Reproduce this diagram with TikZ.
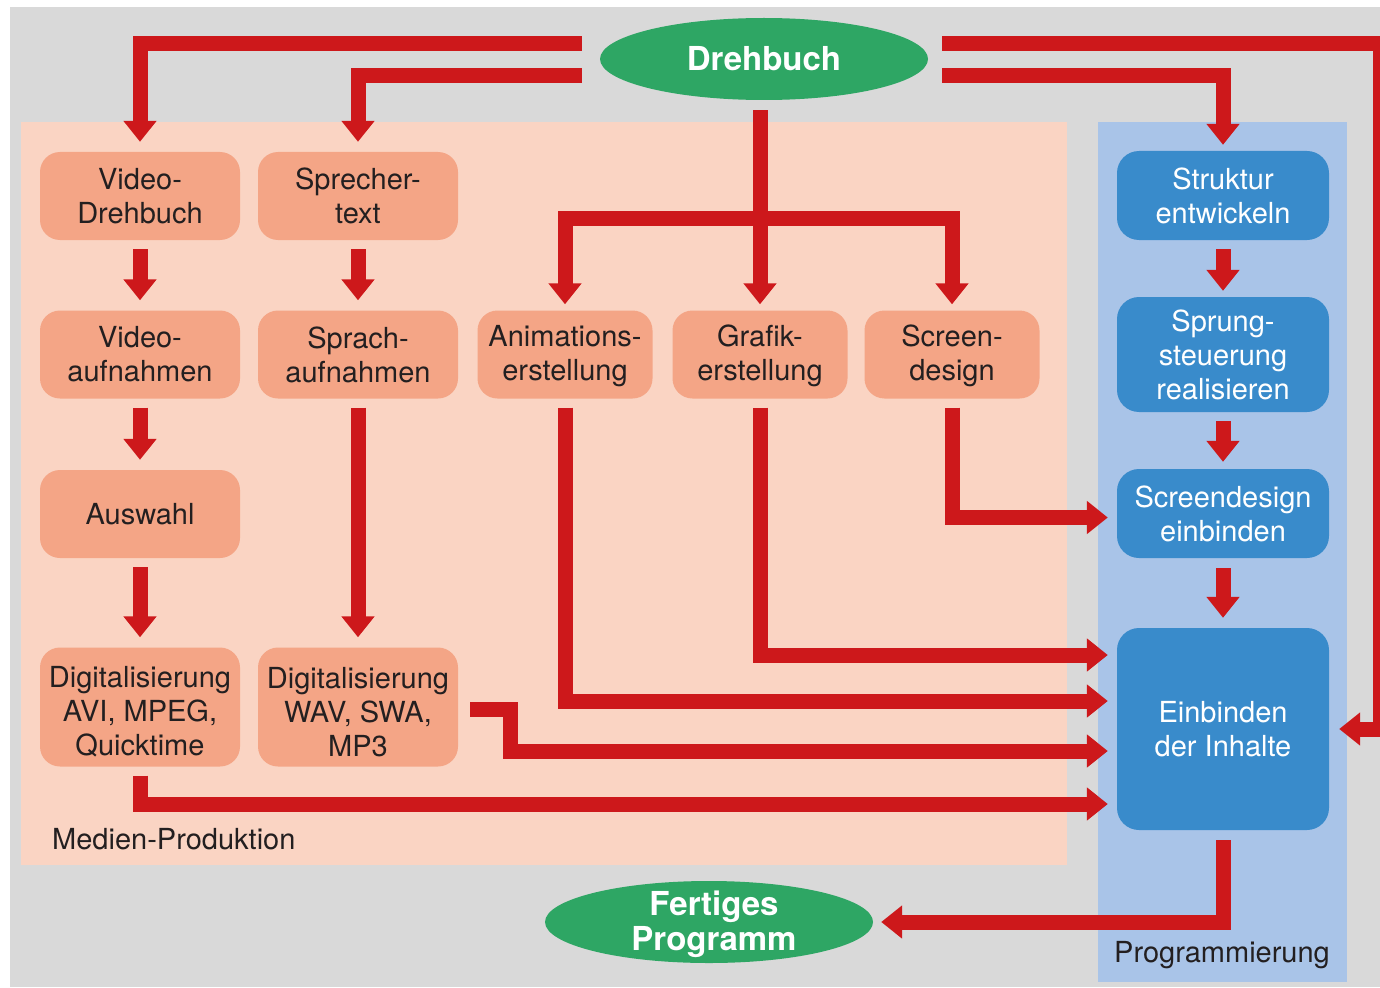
\documentclass[tikz,border=0pt]{standalone}
\usepackage{fontspec}
\setmainfont{TeX Gyre Heros}
\usetikzlibrary{arrows.meta,shapes.geometric}

\definecolor{bggray}{HTML}{D9D9D9}
\definecolor{peach}{HTML}{FAD4C3}
\definecolor{boxorange}{HTML}{F4A586}
\definecolor{flowred}{HTML}{CD181B}
\definecolor{scriptgreen}{HTML}{2EA664}
\definecolor{progblue}{HTML}{A9C4E8}
\definecolor{boxblue}{HTML}{398BCB}
\definecolor{txtdark}{HTML}{231F20}

% raises the first line of a multi-line label so the text sits lower
\newcommand{\toproom}[1]{\rule{0pt}{#1}}

\begin{document}
\begin{tikzpicture}[x=1pt,y=-1pt,
  every node/.style={font=\fontsize{29}{34}\selectfont, align=center, inner sep=0pt},
  media/.style={rectangle, rounded corners=20pt, fill=boxorange, text=txtdark,
                minimum width=200pt, minimum height=88pt},
  prog/.style={rectangle, rounded corners=22pt, fill=boxblue, text=white,
               minimum width=212pt, minimum height=89pt},
  terminal/.style={ellipse, fill=scriptgreen, text=white, minimum width=328pt,
                   minimum height=82pt, inner ysep=-16pt,
                   font=\bfseries\fontsize{33}{35}\selectfont},
  flow/.style={draw=flowred, line width=15pt, line join=miter,
               -{Triangle[length=21pt,width=32pt]}},
  arealabel/.style={text=txtdark}
]
\useasboundingbox (0,0) rectangle (1380,987);

% background and the two working areas
\fill[white] (0,0) rectangle (1380,987);
\fill[bggray] (10,7) rectangle (1380,987);
\fill[peach] (21,122) rectangle (1067,865);
\fill[progblue] (1098,122) rectangle (1347,982);

% start and end
\node[terminal] (dr) at (764,59) {Drehbuch};
\node[terminal] (fp) at (709,922)
  {\hspace*{10pt}\toproom{29pt}Fertiges\\\hspace*{10pt}Programm};

% media production
\node[media] (vd) at (140,196) {Video-\\Drehbuch};
\node[media] (st) at (358,196) {Sprecher-\\text};
\node[media] (va) at (140,354.5) {Video-\\aufnahmen};
\node[media] (sa) at (358,354.5) {Sprach-\\aufnahmen};
\node[media, minimum width=175pt] (an) at (565,354.5) {\toproom{25pt}Animations-\\erstellung};
\node[media, minimum width=175pt] (gr) at (760,354.5) {\toproom{25pt}Grafik-\\erstellung};
\node[media, minimum width=175pt] (sc) at (952,354.5) {\toproom{25pt}Screen-\\design};
\node[media] (au) at (140,514) {Auswahl};
\node[media, minimum height=119pt] (dg1) at (140,707)
  {\toproom{31pt}Digitalisierung\\AVI, MPEG,\\Quicktime};
\node[media, minimum height=119pt] (dg2) at (358,707)
  {\toproom{31pt}Digitalisierung\\WAV, SWA,\\MP3};

% programming
\node[prog] (sk) at (1223,195.5) {Struktur\\entwickeln};
\node[prog, minimum height=115pt] (sp) at (1223,354.5) {Sprung-\\steuerung\\realisieren};
\node[prog] (se) at (1223,513.5) {Screendesign\\einbinden};
\node[prog, minimum height=202pt] (ei) at (1223,729) {Einbinden\\der Inhalte};

% area labels
\node[arealabel, anchor=west] (mp) at (52,839) {Medien-Produktion};
\node[arealabel] (pg) at (1222,955) {Programmierung};

% bend points
\coordinate (split) at (760,218);
\coordinate (rbend) at (1380,400);
\coordinate (dgbend) at (510,751);

% from the script
\draw[flow, shorten >=10pt] ([xshift=-18pt,yshift=15pt]dr.west) -| (vd.north);
\draw[flow, shorten >=10pt] ([xshift=-18pt,yshift=-17pt]dr.west) -| (st.north);
\draw[flow, shorten >=6pt] ([xshift=14pt,yshift=-17pt]dr.east) -| (sk.north);
\draw[flow, shorten >=10pt] ([xshift=14pt,yshift=15pt]dr.east) -| (rbend) |- (ei.east);
\draw[flow, shorten <=10pt, shorten >=6pt] (gr.north |- dr.south) -- (gr.north);
\draw[flow, shorten >=6pt] (split) -| (an.north);
\draw[flow, shorten >=6pt] (split) -| (sc.north);

% media chains
\draw[flow, shorten <=9pt, shorten >=10pt] (vd) -- (va);
\draw[flow, shorten <=9pt, shorten >=10pt] (st) -- (sa);
\draw[flow, shorten <=9pt, shorten >=10pt] (va) -- (au);
\draw[flow, shorten <=9pt, shorten >=10pt] (au) -- (dg1);
\draw[flow, shorten <=9pt, shorten >=10pt] (sa) -- (dg2);

% programming chain
\draw[flow, shorten <=9pt, shorten >=6pt] (sk) -- (sp);
\draw[flow, shorten <=9pt, shorten >=7pt] (sp) -- (se);
\draw[flow, shorten <=10pt, shorten >=10pt] (se) -- (ei);

% media into programming
\draw[flow, shorten <=9pt, shorten >=9pt] (sc.south) |- ([yshift=-4pt]se.west);
\draw[flow, shorten <=9pt, shorten >=9pt] (gr.south) |- ([yshift=74pt]ei.west);
\draw[flow, shorten <=9pt, shorten >=9pt] (an.south) |- ([yshift=28pt]ei.west);
\draw[flow, shorten >=9pt] ([xshift=12pt,yshift=-2pt]dg2.east) -| (dgbend) -- ([yshift=-22pt]ei.west);
\draw[flow, shorten <=9pt, shorten >=9pt] (dg1.south) |- ([yshift=-75pt]ei.west);

% result
\draw[flow, shorten <=10pt, shorten >=8pt] (ei.south) |- (fp.east);
\end{tikzpicture}
\end{document}
